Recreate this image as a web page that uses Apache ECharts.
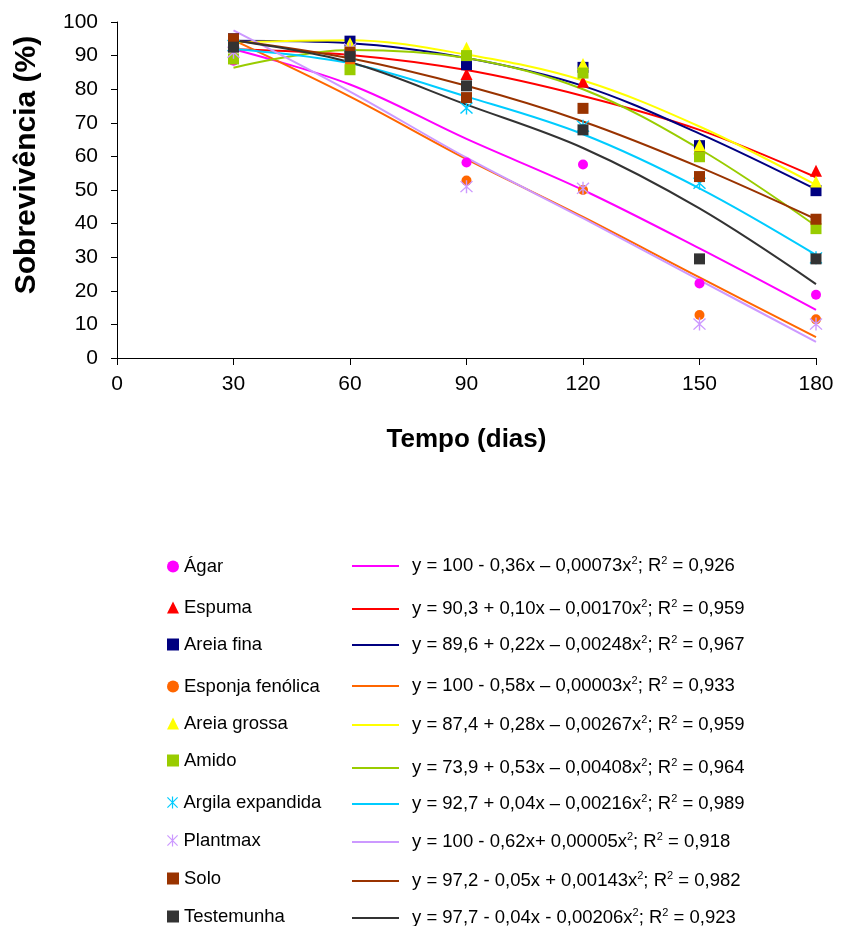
<!DOCTYPE html>
<html>
<head>
<meta charset="utf-8">
<script src="https://cdn.jsdelivr.net/npm/echarts@6/dist/echarts.min.js"></script>
<style>
  html, body { margin: 0; padding: 0; background: #fff; }
  #chart { width: 841px; height: 926px; }
</style>
</head>
<body>
<div id="chart"></div>
<script>
// ---------- DATA ----------
const days = [30, 60, 90, 120, 150, 180];
const xTicks = [0, 30, 60, 90, 120, 150, 180];
const yTicks = [0, 10, 20, 30, 40, 50, 60, 70, 80, 90, 100];

const seriesNames = ['Ágar', 'Espuma', 'Areia fina', 'Esponja fenólica', 'Areia grossa',
  'Amido', 'Argila expandida', 'Plantmax', 'Solo', 'Testemunha'];

// observed survival (%)
const agar        = [88.5, 90.0, 58.2, 57.6, 22.2, 18.8];
const espuma      = [93.0, 92.0, 84.5, 82.2, 62.4, 55.7];
const areiaFina   = [95.0, 94.3, 87.3, 86.5, 63.2, 49.8];
const esponja     = [89.5, 87.8, 52.8, 50.0, 12.8, 11.5];
const areiaGrossa = [94.0, 93.7, 92.3, 87.5, 63.4, 52.5];
const amido       = [89.0, 85.8, 90.0, 84.8, 59.9, 38.5];
const argila      = [93.0, 90.0, 74.4, 69.0, 52.0, 29.8];
const plantmax    = [91.0, 92.0, 51.0, 50.5, 10.1, 10.1];
const solo        = [95.0, 91.0, 77.5, 74.3, 54.0, 41.3];
const testemunha  = [92.5, 89.7, 81.0, 67.9, 29.5, 29.5];

// fitted trend curves at each day
const agarFit        = [91.9, 81.4, 65.2, 50.0, 32.6, 14.3];
const espumaFit      = [91.9, 90.2, 85.7, 78.0, 67.9, 53.8];
const areiaFinaFit   = [94.4, 93.7, 89.3, 81.0, 66.8, 50.2];
const esponjaFit     = [94.6, 77.8, 59.2, 42.0, 24.0, 6.2];
const areiaGrossaFit = [94.0, 94.6, 90.3, 82.6, 68.9, 51.5];
const amidoFit       = [86.4, 91.7, 89.3, 80.0, 62.2, 39.3];
const argilaFit      = [92.0, 87.7, 77.8, 66.6, 50.5, 30.7];
const plantmaxFit    = [97.5, 79.3, 59.6, 41.6, 23.2, 4.8];
const soloFit        = [94.6, 89.2, 81.0, 70.4, 56.8, 41.3];
const testemunhaFit  = [94.6, 88.0, 75.4, 62.5, 44.5, 22.0];

const equations = [
  'y = 100 - 0,36x – 0,00073x{sup|2}; R{sup|2} = 0,926',
  'y = 90,3 + 0,10x – 0,00170x{sup|2}; R{sup|2} = 0,959',
  'y = 89,6 + 0,22x – 0,00248x{sup|2}; R{sup|2} = 0,967',
  'y = 100 - 0,58x – 0,00003x{sup|2}; R{sup|2} = 0,933',
  'y = 87,4 + 0,28x – 0,00267x{sup|2}; R{sup|2} = 0,959',
  'y = 73,9 + 0,53x – 0,00408x{sup|2}; R{sup|2} = 0,964',
  'y = 92,7 + 0,04x – 0,00216x{sup|2}; R{sup|2} = 0,989',
  'y = 100 - 0,62x+ 0,00005x{sup|2}; R{sup|2} = 0,918',
  'y = 97,2 - 0,05x + 0,00143x{sup|2}; R{sup|2} = 0,982',
  'y = 97,7 - 0,04x - 0,00206x{sup|2}; R{sup|2} = 0,923'
];

// ---------- STYLE ----------
const observed = [agar, espuma, areiaFina, esponja, areiaGrossa, amido, argila, plantmax, solo, testemunha];
const fitted = [agarFit, espumaFit, areiaFinaFit, esponjaFit, areiaGrossaFit, amidoFit, argilaFit, plantmaxFit, soloFit, testemunhaFit];

const ASTER = 'path://M-0.1,-1L0.1,-1L0.1,1L-0.1,1Z' +
  'M-0.92,-0.78L-0.78,-0.92L0.92,0.78L0.78,0.92Z' +
  'M0.78,-0.92L0.92,-0.78L-0.78,0.92L-0.92,0.78Z';

const markerColors = ['#FF00FF', '#FF0000', '#000080', '#FF6600', '#FFFF00', '#99CC00', '#00CCFF', '#CC99FF', '#993300', '#333333'];
const lineColors   = ['#FF00FF', '#FF0000', '#000080', '#FF6600', '#FFFF00', '#99CC00', '#00CCFF', '#CC99FF', '#993300', '#333333'];
const symbols = ['circle', 'triangle', 'rect', 'circle', 'triangle', 'rect', ASTER, ASTER, 'rect', 'rect'];
const symbolSizes = [10, 12, 11, 10, 12, 11, 13, 13, 11, 11];

// legend layout (row centres, px)
const markerRowY = [563, 604, 641, 683, 720, 757, 799, 837, 875, 913];
const eqRowY     = [561, 604, 640, 681, 720, 763, 799, 837, 876, 913];

const FONT = '"Liberation Sans", Arial, sans-serif';

const series = [];
const legends = [];
seriesNames.forEach((name, i) => {
  const fitName = name + ' (ajuste)';
  series.push({
    name: fitName,
    type: 'line',
    data: days.map((d, k) => [d, fitted[i][k]]),
    smooth: 0.35,
    symbol: 'none',
    showSymbol: false,
    lineStyle: { color: lineColors[i], width: 2 },
    itemStyle: { color: lineColors[i] },
    z: 2,
    silent: true
  });
});
seriesNames.forEach((name, i) => {
  series.push({
    name: name,
    type: 'scatter',
    data: days.map((d, k) => [d, observed[i][k]]),
    symbol: symbols[i],
    symbolSize: symbolSizes[i],
    itemStyle: { color: markerColors[i], opacity: 1 },
    z: 3,
    silent: true
  });
  legends.push({
    data: [name],
    left: 162,
    top: markerRowY[i] - 11,
    itemWidth: 12,
    itemHeight: 12,
    itemGap: 0,
    selectedMode: false,
    textStyle: { fontSize: 18.5, color: '#000', fontFamily: FONT }
  });
  legends.push({
    data: [{ name: name + ' (ajuste)', icon: 'rect' }],
    left: 347,
    top: eqRowY[i] - 11,
    itemWidth: 47,
    itemHeight: 2,
    selectedMode: false,
    formatter: () => '{gap|}' + equations[i],
    textStyle: {
      fontSize: 18.5, color: '#000', fontFamily: FONT, lineHeight: 22,
      rich: {
        gap: { width: 8 },
        sup: { fontSize: 11, lineHeight: 11, verticalAlign: 'top', fontFamily: FONT, color: '#000' }
      }
    }
  });
});

const chart = echarts.init(document.getElementById('chart'), null, { renderer: 'canvas' });
chart.setOption({
  backgroundColor: '#ffffff',
  animation: false,
  textStyle: { fontFamily: FONT },
  grid: { left: 117, right: 25, top: 22, bottom: 568, containLabel: false },
  legend: legends,
  xAxis: {
    type: 'value',
    min: xTicks[0], max: xTicks[xTicks.length - 1], interval: 30,
    name: 'Tempo (dias)',
    nameLocation: 'middle',
    nameGap: 69,
    nameTextStyle: { fontSize: 26, fontWeight: 'bold', color: '#000', fontFamily: FONT },
    axisLine: { show: true, lineStyle: { color: '#000', width: 1 } },
    axisTick: { show: true, length: 7, lineStyle: { color: '#000' } },
    axisLabel: { fontSize: 21, color: '#000', margin: 16, fontFamily: FONT },
    splitLine: { show: false }
  },
  yAxis: {
    type: 'value',
    min: yTicks[0], max: yTicks[yTicks.length - 1], interval: 10,
    name: 'Sobrevivência (%)',
    nameLocation: 'middle',
    nameGap: 75,
    nameTextStyle: { fontSize: 30, fontWeight: 'bold', color: '#000', fontFamily: FONT, padding: [0, 0, 0, 50] },
    axisLine: { show: true, lineStyle: { color: '#000', width: 1 } },
    axisTick: { show: true, length: 6, lineStyle: { color: '#000' } },
    axisLabel: { fontSize: 21, color: '#000', margin: 19, fontFamily: FONT },
    splitLine: { show: false }
  },
  series: series
});
</script>
</body>
</html>
